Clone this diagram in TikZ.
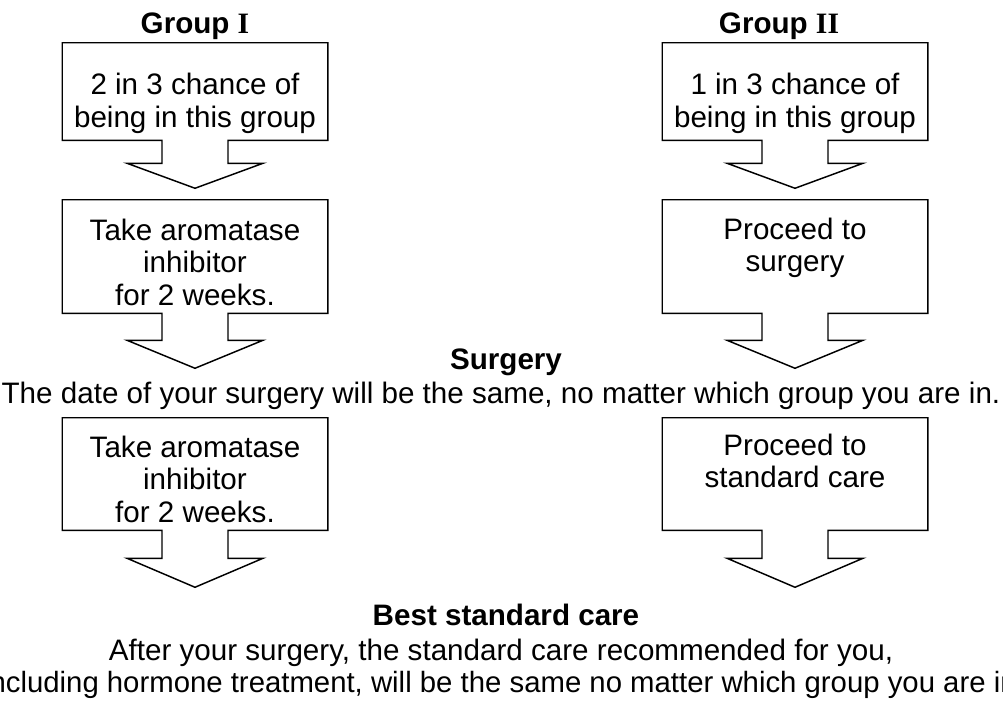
\documentclass[tikz,border=0pt]{standalone}
\usepackage{fontspec}
\setmainfont{Liberation Sans}
\newfontfamily\romanfont{Liberation Serif}
\usetikzlibrary{calc}

% box outline with a block arrow below it: #1 box, #2 stem, #3 head
\newcommand{\blockarrow}[3]{%
  \draw[outline] (#1.south west) -- (#1.north west) -- (#1.north east) -- (#1.south east)
    -- ($(#1.south)+(33,0)$) -- ++(0,#2) -- ++(35,0) -- ($(#1.south)+(0,#2+#3)$)
    -- ($(#1.south)+(-68,#2)$) -- ++(35,0) -- ($(#1.south)+(-33,0)$) -- cycle;}

\begin{document}
\begin{tikzpicture}[x=0.75pt,y=-0.75pt,
  outline/.style={line width=1.1pt, line join=miter},
  stepbox/.style={inner sep=0pt, minimum width=198.75pt},
  body/.style={inner sep=0pt, align=center, font=\fontsize{22.2}{24.5}\selectfont},
  heading/.style={inner sep=0pt, font=\fontsize{22.2}{24.5}\selectfont\bfseries}]
	\useasboundingbox (0,0) rectangle (1003,700);
	\clip (0,0) rectangle (1003,700);

	% Group I
	\node[heading, anchor=base] (titleI) at (195,33) {Group {\romanfont\bfseries I}};
	\node[stepbox, minimum height=72.75pt] (chanceI) at (195,91.5) {};
	\node[body, anchor=north] (chanceItxt) at (195,73) {2 in 3 chance of\\being in this group};
	\blockarrow{chanceI}{23}{25}

	\node[stepbox, minimum height=84.75pt] (drugI) at (195,256.5) {};
	\node[body, anchor=north] (drugItxt) at (195,218.5) {Take aromatase\\inhibitor\\for 2 weeks.};
	\blockarrow{drugI}{27}{28}

	\node[stepbox, minimum height=84pt] (drugIb) at (195,474) {};
	\node[body, anchor=north] (drugIbtxt) at (195,435.5) {Take aromatase\\inhibitor\\for 2 weeks.};
	\blockarrow{drugIb}{28}{29}

	% Group II
	\node[heading, anchor=base] (titleII) at (779,33) {Group {\romanfont\bfseries II}};
	\node[stepbox, minimum height=72.75pt] (chanceII) at (795,91.5) {};
	\node[body, anchor=north] (chanceIItxt) at (795,73) {1 in 3 chance of\\being in this group};
	\blockarrow{chanceII}{23}{25}

	\node[stepbox, minimum height=84.75pt] (surgII) at (795,256.5) {};
	\node[body, anchor=north] (surgIItxt) at (795,217.5) {Proceed to\\surgery};
	\blockarrow{surgII}{27}{28}

	\node[stepbox, minimum height=84pt] (careII) at (795,474) {};
	\node[body, anchor=north] (careIItxt) at (795,433.5) {Proceed to\\standard care};
	\blockarrow{careII}{28}{29}

	% Surgery
	\node[heading, anchor=base] (surgery) at (506,369) {Surgery};
	\node[body, anchor=base] (surgerytxt) at (501,403) {The date of your surgery will be the same, no matter which group you are in.};

	% Best standard care
	\node[heading, anchor=base] (care) at (506,625) {Best standard care};
	\node[body, anchor=base] (caretxtA) at (501,660) {After your surgery, the standard care recommended for you,};
	\node[body, anchor=base, font=\fontsize{22}{24.5}\selectfont] (caretxtB) at (504,692) {including hormone treatment, will be the same no matter which group you are in.};
\end{tikzpicture}
\end{document}
